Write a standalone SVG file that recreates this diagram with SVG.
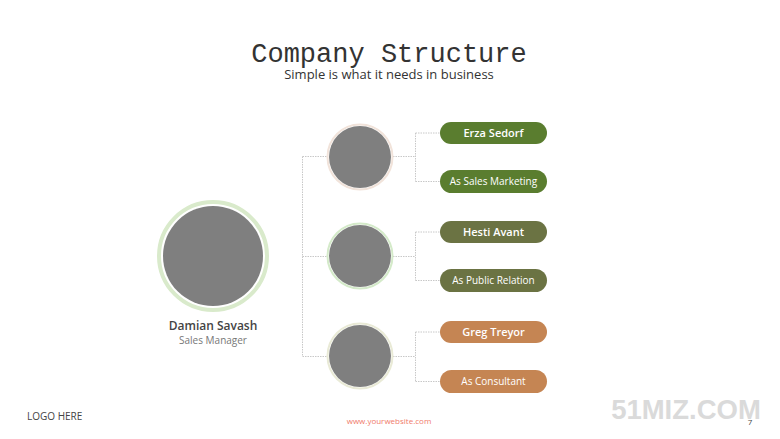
<svg xmlns="http://www.w3.org/2000/svg" width="780" height="439" viewBox="0 0 780 439">
<style>
.conn{fill:none;stroke:#c8c8c8;stroke-width:1;stroke-dasharray:1.5 1}
.photo{fill:#7f7f7f}
.pill-t{font-family:"Open Sans","DejaVu Sans",sans-serif;fill:#ffffff;text-anchor:middle}
.name{font-size:11px;font-weight:600}
.role{font-size:10px}
</style>
<rect width="780" height="439" fill="#ffffff"/>
<g id="title">
<text x="389" y="62" font-family="'Liberation Mono','DejaVu Sans Mono',monospace" font-size="27" fill="#333" text-anchor="middle">Company Structure</text>
<text x="389" y="79" font-family="'Open Sans','DejaVu Sans',sans-serif" font-size="13" fill="#333" text-anchor="middle">Simple is what it needs in business</text>
</g>
<g id="connectors">
<path class="conn" d="M302.5 156.5V356.5M302.5 156.5H327M302.5 256.5H327M302.5 356.5H327"/>
<path class="conn" d="M393 156.5H415.5M415.5 133V181.5M415.5 133H440M415.5 181.5H440"/>
<path class="conn" d="M393 256.5H415.5M415.5 232V280.5M415.5 232H440M415.5 280.5H440"/>
<path class="conn" d="M393 356.5H415.5M415.5 332V381.5M415.5 332H440M415.5 381.5H440"/>
</g>
<g id="manager">
<circle cx="213" cy="256" r="54" fill="#ffffff" stroke="#d9eacb" stroke-width="4"/>
<circle class="photo" cx="213" cy="256" r="50"/>
<text x="213" y="330" font-family="'Open Sans','DejaVu Sans',sans-serif" font-size="12" font-weight="600" fill="#444" text-anchor="middle">Damian Savash</text>
<text x="213" y="344" font-family="'Open Sans','DejaVu Sans',sans-serif" font-size="10" fill="#777" text-anchor="middle">Sales Manager</text>
</g>
<g id="person1">
<circle cx="360" cy="157" r="32.5" fill="#ffffff" stroke="#f1e3da" stroke-width="2"/>
<circle class="photo" cx="360" cy="157" r="31"/>
<rect x="440" y="122" width="107" height="22" rx="11" fill="#5a7d2f"/>
<text class="pill-t name" x="493.5" y="137">Erza Sedorf</text>
<rect x="440" y="170" width="107" height="23" rx="11.5" fill="#5a7d2f"/>
<text class="pill-t role" x="493.5" y="185">As Sales Marketing</text>
</g>
<g id="person2">
<circle cx="360" cy="256" r="32.5" fill="#ffffff" stroke="#d4eac9" stroke-width="2"/>
<circle class="photo" cx="360" cy="256" r="31"/>
<rect x="440" y="221" width="107" height="22" rx="11" fill="#6b7343"/>
<text class="pill-t name" x="493.5" y="236">Hesti Avant</text>
<rect x="440" y="269" width="107" height="23" rx="11.5" fill="#6b7343"/>
<text class="pill-t role" x="493.5" y="284">As Public Relation</text>
</g>
<g id="person3">
<circle cx="360" cy="356" r="32.5" fill="#ffffff" stroke="#e9ead6" stroke-width="2"/>
<circle class="photo" cx="360" cy="356" r="31"/>
<rect x="440" y="321" width="107" height="22" rx="11" fill="#c58553"/>
<text class="pill-t name" x="493.5" y="336">Greg Treyor</text>
<rect x="440" y="370" width="107" height="23" rx="11.5" fill="#c58553"/>
<text class="pill-t role" x="493.5" y="385">As Consultant</text>
</g>
<g id="footer">
<text x="27" y="420" font-family="'Open Sans','DejaVu Sans',sans-serif" font-size="10" fill="#444">LOGO HERE</text>
<text x="389" y="424" font-family="'Open Sans','DejaVu Sans',sans-serif" font-size="8" fill="#f07a6a" text-anchor="middle">www.yourwebsite.com</text>
<text x="686" y="419" font-family="'Liberation Sans','Arial',sans-serif" font-size="27.5" font-weight="bold" fill="#dadada" text-anchor="middle">51MIZ.COM</text>
<text x="750" y="425" font-family="'Open Sans','DejaVu Sans',sans-serif" font-size="8" fill="#444" text-anchor="middle">7</text>
</g>
</svg>
